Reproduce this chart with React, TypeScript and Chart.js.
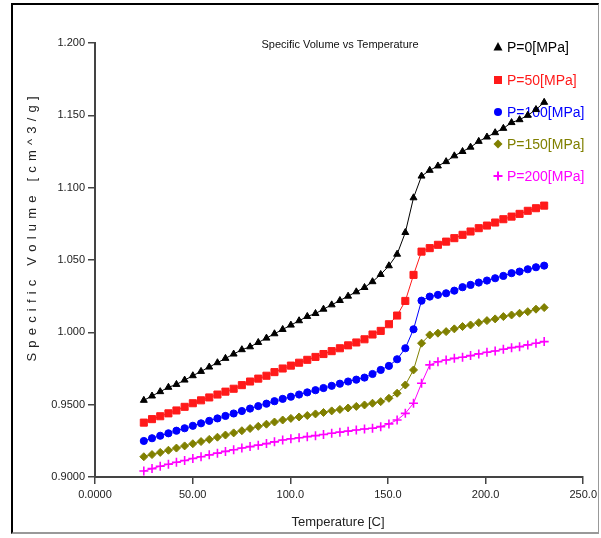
import React, { useEffect, useRef } from "react";
import { Chart, registerables } from "chart.js";

Chart.register(...registerables);

const temperatures = [
  25.0, 29.2, 33.4, 37.6, 41.7, 45.9, 50.1, 54.3, 58.5, 62.7, 66.8, 71.0, 75.2, 79.4, 83.6, 87.8,
  91.9, 96.1, 100.3, 104.5, 108.7, 112.9, 117.0, 121.2, 125.4, 129.6, 133.8, 138.0, 142.1, 146.3,
  150.5, 154.7, 158.9, 163.1, 167.2, 171.4, 175.6, 179.8, 184.0, 188.2, 192.3, 196.5, 200.7, 204.9,
  209.1, 213.3, 217.4, 221.6, 225.8, 230.0,
];

const p0 = [
  0.953, 0.956, 0.959, 0.962, 0.964, 0.967, 0.97, 0.973, 0.976, 0.979, 0.982, 0.985, 0.988, 0.99,
  0.993, 0.996, 0.999, 1.002, 1.005, 1.008, 1.011, 1.013, 1.016, 1.019, 1.022, 1.025, 1.028, 1.031,
  1.035, 1.04, 1.046, 1.054, 1.069, 1.093, 1.108, 1.112, 1.115, 1.118, 1.122, 1.125, 1.128, 1.132,
  1.135, 1.138, 1.141, 1.145, 1.147, 1.15, 1.154, 1.159,
];

const p50 = [
  0.9376, 0.94, 0.942, 0.944, 0.946, 0.9485, 0.951, 0.953, 0.955, 0.957, 0.959, 0.961, 0.9635, 0.966,
  0.968, 0.97, 0.9725, 0.975, 0.977, 0.979, 0.981, 0.983, 0.985, 0.987, 0.989, 0.991, 0.993, 0.9952,
  0.9985, 1.001, 1.0056, 1.0116, 1.0217, 1.0397, 1.0558, 1.0582, 1.0605, 1.0627, 1.0651, 1.0674,
  1.0697, 1.072, 1.0738, 1.0759, 1.0782, 1.08, 1.0819, 1.084, 1.0858, 1.0876,
];

const p100 = [
  0.9249, 0.9268, 0.9285, 0.9302, 0.932, 0.9337, 0.9354, 0.9371, 0.9388, 0.9405, 0.9422, 0.9439,
  0.9456, 0.9473, 0.949, 0.9507, 0.9524, 0.954, 0.9555, 0.957, 0.9585, 0.96, 0.9615, 0.963, 0.9645,
  0.966, 0.9673, 0.9687, 0.9712, 0.974, 0.9768, 0.9814, 0.989, 1.0021, 1.0219, 1.0247, 1.0259, 1.027,
  1.0288, 1.0312, 1.0328, 1.0344, 1.0358, 1.0374, 1.039, 1.0409, 1.042, 1.0436, 1.045, 1.0461,
];

const p150 = [
  0.914, 0.9155, 0.917, 0.9185, 0.92, 0.9215, 0.923, 0.9245, 0.926, 0.9275, 0.929, 0.9305, 0.932,
  0.9335, 0.935, 0.9365, 0.938, 0.9394, 0.9405, 0.9415, 0.9425, 0.9436, 0.9446, 0.9457, 0.9467,
  0.9477, 0.9488, 0.9498, 0.951, 0.9521, 0.9544, 0.9579, 0.9636, 0.974, 0.9925, 0.9982, 0.9994,
  1.0005, 1.0024, 1.004, 1.0051, 1.0067, 1.0081, 1.0093, 1.0109, 1.012, 1.0132, 1.0143, 1.016, 1.0171,
];

const p200 = [
  0.9041, 0.9058, 0.9074, 0.9088, 0.9102, 0.9114, 0.9128, 0.914, 0.9153, 0.9165, 0.9177, 0.9188,
  0.92, 0.921, 0.922, 0.9231, 0.9243, 0.9256, 0.9264, 0.9271, 0.9279, 0.9286, 0.9294, 0.9302, 0.931,
  0.9317, 0.9325, 0.9332, 0.9337, 0.9348, 0.9367, 0.9394, 0.944, 0.951, 0.9648, 0.9775, 0.9797,
  0.9809, 0.982, 0.9828, 0.9839, 0.9851, 0.9862, 0.9871, 0.9883, 0.9894, 0.9901, 0.9913, 0.9925,
  0.9936,
];

const seriesLabels = ["P=0[MPa]", "P=50[MPa]", "P=100[MPa]", "P=150[MPa]", "P=200[MPa]"];
const seriesValues = [p0, p50, p100, p150, p200];
const seriesColors = ["#000000", "#ff1a1a", "#0000ff", "#808000", "#ff00ff"];
const seriesMarkers = ["triangle", "rect", "circle", "rectRot", "cross"];
const markerRadii = [4, 5, 3.6, 4, 4.5];

const xTickValues = [0, 50, 100, 150, 200, 250];
const xTickLabels = ["0.0000", "50.00", "100.0", "150.0", "200.0", "250.0"];
const yTickValues = [0.9, 0.95, 1.0, 1.05, 1.1, 1.15, 1.2];
const yTickLabels = ["0.9000", "0.9500", "1.000", "1.050", "1.100", "1.150", "1.200"];

const chartTitle = "Specific Volume vs Temperature";
const xTitle = "Temperature [C]";
const yTitle = "Specific Volume [cm^3/g]";

const FONT = "'Liberation Sans', Arial, sans-serif";

function drawMarker(ctx: CanvasRenderingContext2D, kind: string, x: number, y: number, color: string) {
  ctx.save();
  ctx.fillStyle = color;
  ctx.strokeStyle = color;
  ctx.beginPath();
  if (kind === "triangle") {
    ctx.moveTo(x, y - 5);
    ctx.lineTo(x + 4.5, y + 3.5);
    ctx.lineTo(x - 4.5, y + 3.5);
    ctx.closePath();
    ctx.fill();
  } else if (kind === "rect") {
    ctx.fillRect(x - 4, y - 4, 8, 8);
  } else if (kind === "circle") {
    ctx.arc(x, y, 4, 0, Math.PI * 2);
    ctx.fill();
  } else if (kind === "rectRot") {
    ctx.moveTo(x, y - 4.5);
    ctx.lineTo(x + 4.5, y);
    ctx.lineTo(x, y + 4.5);
    ctx.lineTo(x - 4.5, y);
    ctx.closePath();
    ctx.fill();
  } else {
    ctx.lineWidth = 2;
    ctx.moveTo(x - 4.5, y);
    ctx.lineTo(x + 4.5, y);
    ctx.moveTo(x, y - 4.5);
    ctx.lineTo(x, y + 4.5);
    ctx.stroke();
  }
  ctx.restore();
}

const decorPlugin = {
  id: "decor",
  beforeDatasetsDraw(chart: any) {
    const ctx: CanvasRenderingContext2D = chart.ctx;
    ctx.save();
    // legend
    ctx.font = `14px ${FONT}`;
    ctx.textBaseline = "middle";
    ctx.textAlign = "left";
    const rows = [47, 80, 112, 144, 176];
    seriesLabels.forEach((label, i) => {
      drawMarker(ctx, seriesMarkers[i], 498, rows[i], seriesColors[i]);
      ctx.fillStyle = seriesColors[i];
      ctx.fillText(label, 507, rows[i] + 1);
    });
    ctx.restore();
  },
  afterDraw(chart: any) {
    const ctx: CanvasRenderingContext2D = chart.ctx;
    ctx.save();
    // title
    ctx.fillStyle = "#111";
    ctx.font = `11px ${FONT}`;
    ctx.textAlign = "center";
    ctx.textBaseline = "middle";
    ctx.fillText(chartTitle, 340, 45);
    // x title
    ctx.font = `13px ${FONT}`;
    ctx.fillStyle = "#222";
    ctx.fillText(xTitle, 338, 522);
    // y title, letter spaced, rotated
    ctx.translate(32, 229);
    ctx.rotate(-Math.PI / 2);
    ctx.font = `13px ${FONT}`;
    ctx.textAlign = "left";
    const spacing = 5.2;
    const chars = yTitle.split("");
    const widths = chars.map((c) => ctx.measureText(c).width);
    const total = widths.reduce((a, b) => a + b, 0) + spacing * (chars.length - 1);
    let pos = -total / 2;
    chars.forEach((c, i) => {
      ctx.fillText(c, pos, 0);
      pos += widths[i] + spacing;
    });
    ctx.restore();
  },
};

export default function App() {
  const canvasRef = useRef<HTMLCanvasElement | null>(null);

  useEffect(() => {
    if (!canvasRef.current) return;
    const datasets = seriesValues.map((vals, i) => ({
      label: seriesLabels[i],
      data: temperatures.map((t, j) => ({ x: t, y: vals[j] })),
      borderColor: seriesColors[i],
      backgroundColor: seriesColors[i],
      borderWidth: 1,
      pointStyle: seriesMarkers[i] as any,
      pointRadius: markerRadii[i],
      pointBorderWidth: i === 4 ? 1.6 : 1,
      pointBackgroundColor: seriesColors[i],
      pointBorderColor: seriesColors[i],
      tension: 0,
      fill: false,
    }));

    const tickFont = { family: FONT, size: 11 };
    const chart = new Chart(canvasRef.current, {
      type: "line",
      data: { datasets },
      options: {
        responsive: false,
        animation: false,
        events: [],
        layout: { padding: { top: 43, right: 15, left: 0, bottom: 0 } },
        plugins: { legend: { display: false }, title: { display: false }, tooltip: { enabled: false } },
        scales: {
          x: {
            type: "linear",
            min: 0,
            max: 250,
            afterBuildTicks: (scale: any) => {
              scale.ticks = xTickValues.map((v) => ({ value: v }));
            },
            afterFit: (scale: any) => {
              scale.height = 61;
            },
            ticks: {
              font: tickFont,
              color: "#222",
              padding: 4,
              maxRotation: 0,
              autoSkip: false,
              callback: (v: any) => {
                const idx = xTickValues.indexOf(Number(v));
                return idx >= 0 ? xTickLabels[idx] : "";
              },
            },
            grid: { drawOnChartArea: false, drawTicks: true, tickLength: 7, color: "#444", lineWidth: 1.5 },
            border: { display: true, color: "#444", width: 2 },
          },
          y: {
            type: "linear",
            min: 0.9,
            max: 1.2,
            afterBuildTicks: (scale: any) => {
              scale.ticks = yTickValues.map((v) => ({ value: v }));
            },
            afterFit: (scale: any) => {
              scale.width = 95;
            },
            ticks: {
              font: tickFont,
              color: "#222",
              padding: 3,
              autoSkip: false,
              callback: (v: any) => {
                const idx = yTickValues.findIndex((t) => Math.abs(t - Number(v)) < 1e-6);
                return idx >= 0 ? yTickLabels[idx] : "";
              },
            },
            grid: { drawOnChartArea: false, drawTicks: true, tickLength: 7, color: "#444", lineWidth: 1.5 },
            border: { display: true, color: "#444", width: 2 },
          },
        },
      },
      plugins: [decorPlugin],
    });
    return () => chart.destroy();
  }, []);

  return (
    <div style={{ position: "absolute", left: 0, top: 0, width: 601, height: 538, background: "#fff" }}>
      <canvas ref={canvasRef} width={601} height={538} style={{ position: "absolute", left: 0, top: 0 }} />
      <div
        style={{
          position: "absolute",
          left: 11,
          top: 3,
          width: 585,
          height: 527,
          borderTop: "2px solid #000",
          borderLeft: "2px solid #000",
          borderRight: "1px solid #999",
          borderBottom: "2px solid #999",
          pointerEvents: "none",
        }}
      />
    </div>
  );
}
